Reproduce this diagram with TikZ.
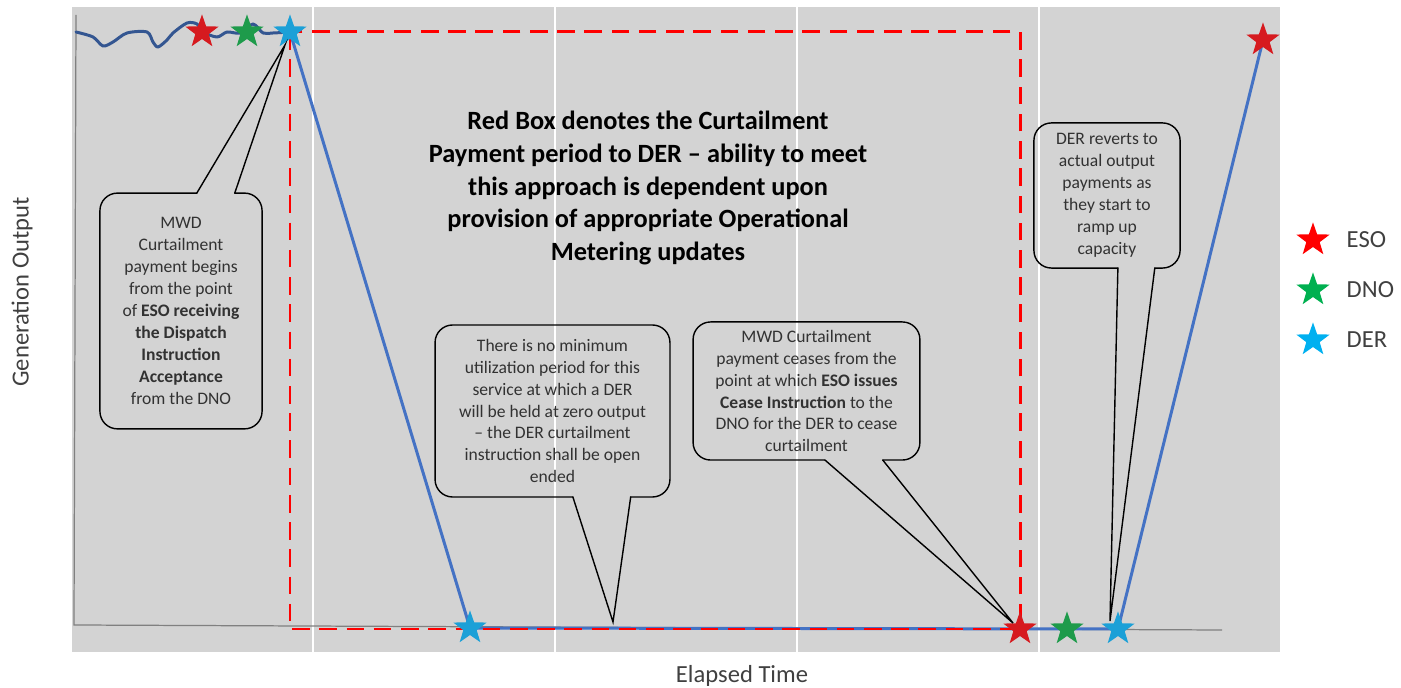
\documentclass[tikz,border=0pt]{standalone}
\usepackage{fontspec}
\setmainfont{Carlito}
\usepackage{xcolor}
\usepackage{tikz}
\usetikzlibrary{positioning,shapes.geometric}

\definecolor{plotgray}{RGB}{211,211,211}
\definecolor{waveblue}{RGB}{52,86,145}
\definecolor{curveblue}{RGB}{68,114,196}
\definecolor{esored}{RGB}{214,26,31}
\definecolor{dnogreen}{RGB}{30,155,75}
\definecolor{derblue}{RGB}{28,160,215}
\definecolor{legred}{RGB}{255,0,0}
\definecolor{leggreen}{RGB}{0,176,80}
\definecolor{legblue}{RGB}{0,176,240}
\definecolor{notetext}{RGB}{50,50,50}
\definecolor{labeltext}{RGB}{64,64,64}

\begin{document}
\begin{tikzpicture}[
  x=0.02cm, y=-0.02cm,
  grid/.style={white, line width=1.1pt},
  axis/.style={draw=gray, line width=0.7pt},
  curve/.style={line width=1.7pt, line join=round, line cap=round},
  payzone/.style={draw=red, line width=1.7pt, dash pattern=on 10pt off 5.5pt},
  evstar/.style={star, star points=5, star point ratio=2.5, minimum size=20pt, inner sep=0pt, fill=#1, draw=none},
  note/.style={align=center, inner sep=0pt, font=\fontsize{10}{12.5}\selectfont, text=notetext},
  noteline/.style={line width=0.8pt, rounded corners=10pt, line cap=round},
  tipline/.style={line width=0.8pt, line cap=round},
  legtext/.style={font=\fontsize{14}{16}\selectfont, inner sep=0pt, text=labeltext}
]
\useasboundingbox (0,0) rectangle (1401,688);

% plot area
\fill[plotgray] (72,7) rectangle (1280,652);
\foreach \gx in {313,555,797,1039}
  \draw[grid] (\gx,7) -- (\gx,652);
\draw[axis] (76,15) -- (74,625) -- (1222,630);

% event points
\coordinate (esoA) at (202,32);
\coordinate (dnoA) at (247,32);
\coordinate (derA) at (290,32);
\coordinate (derB) at (470,628);
\coordinate (esoB) at (1020,629);
\coordinate (dnoB) at (1067,629);
\coordinate (derC) at (1118,629);
\coordinate (esoC) at (1263,40);

% generation output
\draw[curve, waveblue] plot[smooth, tension=0.5] coordinates {(76,32) (93,37) (103,46) (113,42) (127,33) (147,32) (153,42) (158,47) (167,40) (173,33) (187,23) (197,24) (203,32) (217,37) (227,32) (240,33) (253,24) (263,33) (273,33) (290,32)};
\draw[curve, curveblue] (derA) -- (derB) -- (derC) -- (esoC);

% curtailment payment period
\draw[payzone] (derA) rectangle (esoB);

\node[evstar=esored] (esoStarA) at (esoA) {};
\node[evstar=dnogreen] (dnoStarA) at (dnoA) {};
\node[evstar=derblue] (derStarA) at (derA) {};
\node[evstar=derblue] (derStarB) at (derB) {};
\node[evstar=esored] (esoStarB) at (esoB) {};
\node[evstar=dnogreen] (dnoStarB) at (dnoB) {};
\node[evstar=derblue] (derStarC) at (derC) {};
\node[evstar=esored] (esoStarC) at (esoC) {};

% callouts
\coordinate (beginTip) at (285,45);
\coordinate (utilTip) at (613,622);
\coordinate (ceaseTip) at (1013,623);
\coordinate (revertTip) at (1110,621);

\node[note, minimum width=91.9pt, minimum height=133.8pt] (beginNote) at (181,311)
  {MWD\\Curtailment\\payment begins\\from the point\\of \textbf{ESO receiving}\\\textbf{the Dispatch}\\\textbf{Instruction}\\\textbf{Acceptance}\\from the DNO};
\draw[noteline] ([xshift=30.6pt]beginNote.north) -- (beginNote.north east) -- (beginNote.south east)
  -- (beginNote.south west) -- (beginNote.north west) -- ([xshift=9pt]beginNote.north);
\draw[tipline] ([xshift=9pt]beginNote.north) -- (beginTip) -- ([xshift=30.6pt]beginNote.north);

\node[note, minimum width=133.3pt, minimum height=97.5pt] (utilNote) at (552.5,411)
  {There is no minimum\\utilization period for this\\service at which a DER\\will be held at zero output\\– the DER curtailment\\instruction shall be open\\ended};
\draw[noteline] ([xshift=44.5pt]utilNote.south) -- (utilNote.south east) -- (utilNote.north east)
  -- (utilNote.north west) -- (utilNote.south west) -- ([xshift=11.6pt]utilNote.south);
\draw[tipline] ([xshift=11.6pt]utilNote.south) -- (utilTip) -- ([xshift=44.5pt]utilNote.south);

\node[note, minimum width=128.7pt, minimum height=78.2pt] (ceaseNote) at (806.5,391)
  {MWD Curtailment\\payment ceases from the\\point at which \textbf{ESO issues}\\\textbf{Cease Instruction} to the\\DNO for the DER to cease\\curtailment};
\draw[noteline] ([xshift=43.4pt]ceaseNote.south) -- (ceaseNote.south east) -- (ceaseNote.north east)
  -- (ceaseNote.north west) -- (ceaseNote.south west) -- ([xshift=10.5pt]ceaseNote.south);
\draw[tipline] ([xshift=10.5pt]ceaseNote.south) -- (ceaseTip) -- ([xshift=43.4pt]ceaseNote.south);

\node[note, minimum width=82.8pt, minimum height=82.2pt] (revertNote) at (1107,195.5)
  {DER reverts to\\actual output\\payments as\\they start to\\ramp up\\capacity};
\draw[noteline] ([xshift=27.2pt]revertNote.south) -- (revertNote.south east) -- (revertNote.north east)
  -- (revertNote.north west) -- (revertNote.south west) -- ([xshift=6.2pt]revertNote.south);
\draw[tipline] ([xshift=6.2pt]revertNote.south) -- (revertTip) -- ([xshift=27.2pt]revertNote.south);

% red box explanation
\node[align=center, font=\fontsize{15}{18.7}\selectfont\bfseries] (redBoxNote) at (648,188)
  {Red Box denotes the Curtailment\\Payment period to DER – ability to meet\\this approach is dependent upon\\provision of appropriate Operational\\Metering updates};

% axis titles
\node[rotate=90, font=\fontsize{14}{16}\selectfont, text=labeltext] (yTitle) at (22,292) {Generation Output};
\node[font=\fontsize{14}{16}\selectfont, text=labeltext] (xTitle) at (742,676) {Elapsed Time};

% legend
\node[evstar=legred] (legEso) at (1313,240) {};
\node[evstar=leggreen] (legDno) at (1313,290) {};
\node[evstar=legblue] (legDer) at (1313,340) {};
\node[legtext, right=19pt of legEso.center] (legEsoText) {ESO};
\node[legtext, right=19pt of legDno.center] (legDnoText) {DNO};
\node[legtext, right=19pt of legDer.center] (legDerText) {DER};
\end{tikzpicture}
\end{document}
